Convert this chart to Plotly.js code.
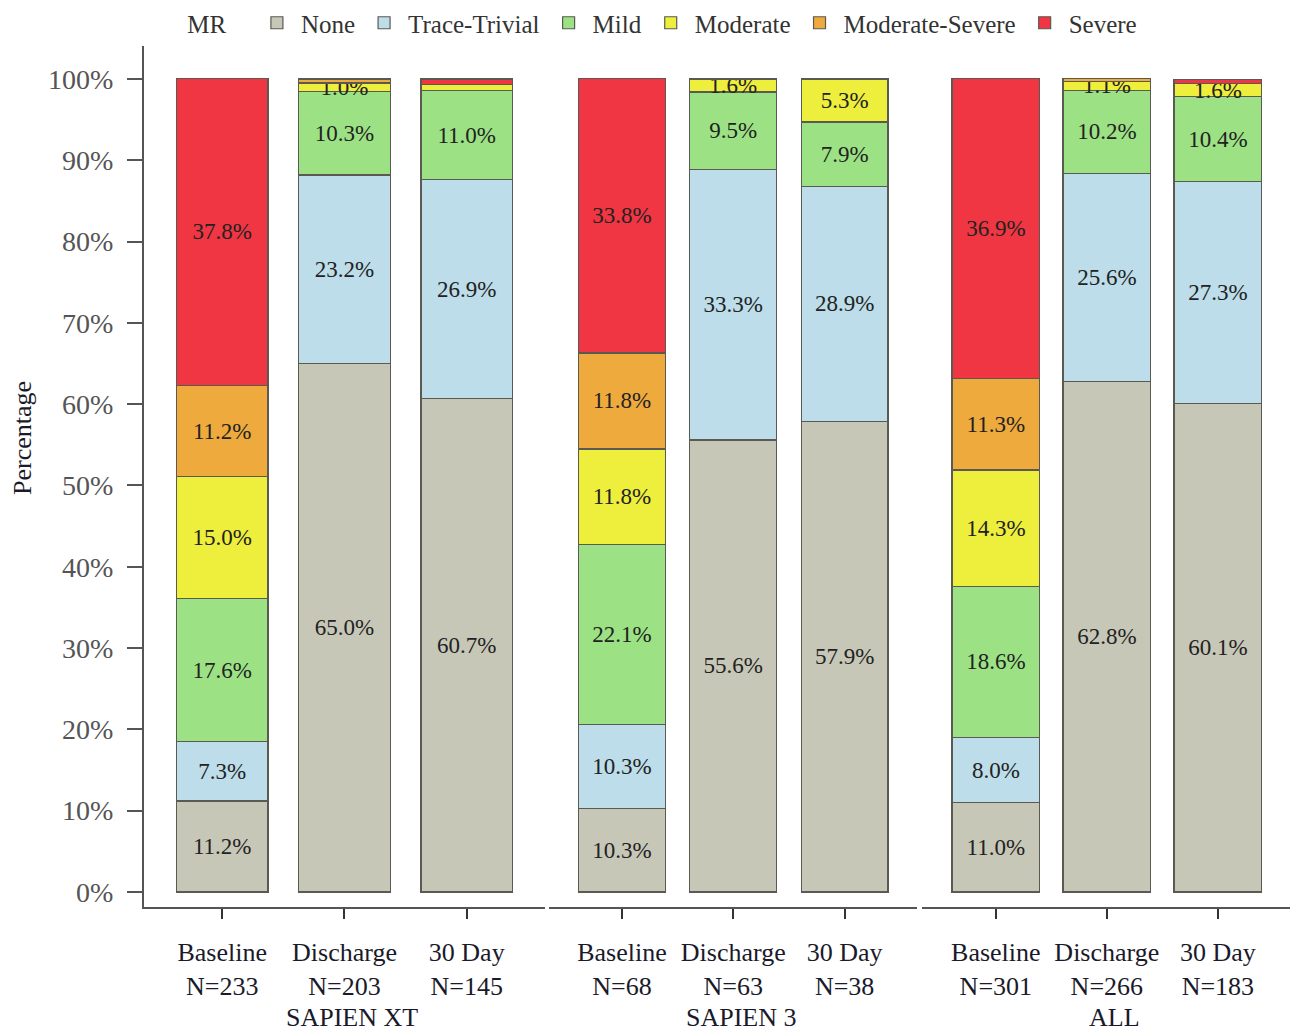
<!DOCTYPE html>
<html>
<head>
<meta charset="utf-8">
<script src="https://cdn.plot.ly/plotly-3.0.1.min.js"></script>
<style>html,body{margin:0;padding:0;background:#fff}#chart{width:1293px;height:1032px}</style>
</head>
<body>
<div id="chart"></div>
<script>
// ---- data ----
const groups = ['SAPIEN XT', 'SAPIEN 3', 'ALL'];
const timepoints = ['Baseline', 'Discharge', '30 Day'];
const nCounts = [233, 203, 145, 68, 63, 38, 301, 266, 183];
const severityNames = ['None', 'Trace-Trivial', 'Mild', 'Moderate', 'Moderate-Severe', 'Severe'];
// values in order: XT Baseline, XT Discharge, XT 30 Day, S3 Baseline, S3 Discharge, S3 30 Day, ALL Baseline, ALL Discharge, ALL 30 Day
const none         = [11.2, 65.0, 60.7, 10.3, 55.6, 57.9, 11.0, 62.8, 60.1];
const traceTrivial = [ 7.3, 23.2, 26.9, 10.3, 33.3, 28.9,  8.0, 25.6, 27.3];
const mild         = [17.6, 10.3, 11.0, 22.1,  9.5,  7.9, 18.6, 10.2, 10.4];
const moderate     = [15.0,  1.0,  0.7, 11.8,  1.6,  5.3, 14.3,  1.1,  1.6];
const modSevere    = [11.2,  0.5,  0.0, 11.8,  0.0,  0.0, 11.3,  0.4,  0.0];
const severe       = [37.8,  0.0,  0.7, 33.8,  0.0,  0.0, 36.9,  0.0,  0.5];
const yTicks = [0, 10, 20, 30, 40, 50, 60, 70, 80, 90, 100];
const yTickText = yTicks.map(v => v + '%');

// ---- styling ----
const series = [none, traceTrivial, mild, moderate, modSevere, severe];
const colors = ['#c7c7b8', '#bcdde9', '#9ce284', '#eeee3c', '#eeaa3c', '#ef3642'];
const FONT = 'Liberation Serif, Times New Roman, serif';
const axisIds = ['x', 'x2', 'x3'];
const barWidths = [0.75, 0.78, 0.79];

const traces = [];
series.forEach((vals, si) => {
  groups.forEach((g, gi) => {
    const xs = [], ys = [], txt = [];
    timepoints.forEach((tp, ti) => {
      const idx = gi * 3 + ti;
      xs.push(tp + '<br>N=' + nCounts[idx]);
      ys.push(vals[idx]);
      txt.push(vals[idx] >= 1 ? vals[idx].toFixed(1) + '%' : '');
    });
    traces.push({
      type: 'bar',
      name: severityNames[si],
      legendgroup: severityNames[si],
      showlegend: gi === 0,
      x: xs, y: ys,
      xaxis: axisIds[gi], yaxis: 'y',
      width: barWidths[gi],
      marker: {color: colors[si], line: {color: '#5a5a52', width: 1.2}},
      text: txt,
      textposition: 'inside',
      insidetextanchor: 'middle',
      textangle: 0,
      constraintext: 'none',
      insidetextfont: {family: FONT, size: 23, color: '#222'},
      hoverinfo: 'name+y'
    });
  });
});

const xCommon = {
  type: 'category',
  anchor: 'y',
  showline: true, linecolor: '#555', linewidth: 2,
  ticks: 'outside', ticklen: 10, tickwidth: 2, tickcolor: '#333',
  ticklabelstandoff: 11,
  tickfont: {family: FONT, size: 26, color: '#1a1a2a'},
  showgrid: false, zeroline: false, fixedrange: true
};

const layout = {
  width: 1293, height: 1032,
  margin: {l: 144, r: 3, t: 46, b: 125},
  paper_bgcolor: '#fff', plot_bgcolor: '#fff',
  barmode: 'stack',
  bargap: 0,
  showlegend: true,
  legend: {
    orientation: 'h', xref: 'paper', x: 0.036, xanchor: 'left',
    yref: 'container', y: 1.0, yanchor: 'top',
    traceorder: 'normal',
    title: {text: 'MR\u00a0\u00a0\u00a0', font: {family: FONT, size: 25, color: '#333'}},
    font: {family: FONT, size: 25, color: '#333'},
    itemwidth: 38
  },
  xaxis:  Object.assign({}, xCommon, {domain: [0, 0.3499], range: [-0.64, 2.64]}),
  xaxis2: Object.assign({}, xCommon, {domain: [0.3534, 0.6745], range: [-0.655, 2.65]}),
  xaxis3: Object.assign({}, xCommon, {domain: [0.6789, 1], range: [-0.665, 2.65]}),
  yaxis: {
    range: [-1.85, 104.06],
    tickvals: yTicks,
    ticktext: yTickText,
    showline: true, linecolor: '#555', linewidth: 2,
    ticks: 'outside', ticklen: 15, tickwidth: 2, tickcolor: '#555',
    ticklabelstandoff: 8,
    tickfont: {family: FONT, size: 28, color: '#555'},
    showgrid: false, zeroline: false, fixedrange: true
  },
  annotations: [
    {text: 'Percentage', xref: 'paper', yref: 'paper', x: -0.1065, y: 0.5447,
     textangle: -90, showarrow: false, xanchor: 'center', yanchor: 'middle',
     font: {family: FONT, size: 26, color: '#1a1a2a'}}
  ].concat(groups.map((g, gi) => ({
    text: g, xref: axisIds[gi], yref: 'paper', x: 1, y: -0.1278, xshift: 8,
    showarrow: false, xanchor: 'center', yanchor: 'middle',
    font: {family: FONT, size: 26, color: '#1a1a2a'}
  })))
};

Plotly.newPlot('chart', traces, layout, {displayModeBar: false, staticPlot: true});
</script>
</body>
</html>
